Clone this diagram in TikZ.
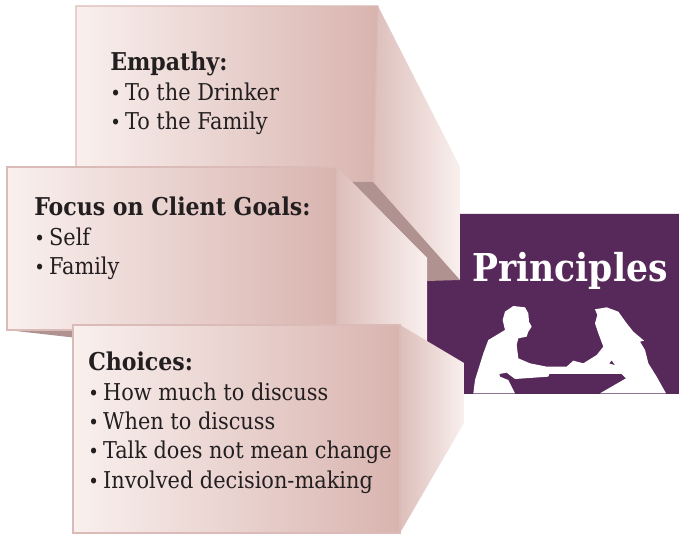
\documentclass[tikz,border=0pt]{standalone}
\usepackage{fontspec}
\setmainfont{DejaVu Serif Condensed}
\definecolor{plum}{HTML}{57285A}
\definecolor{ink}{HTML}{231F20}
\definecolor{edge}{HTML}{DABBB8}
\definecolor{pale}{HTML}{F9F0EE}
\definecolor{mid}{HTML}{EAD8D6}
\definecolor{rose}{HTML}{D9B4AF}
\definecolor{wingl}{HTML}{DDBEBA}
\definecolor{shade}{HTML}{B09391}
\newcommand{\bul}{{\fontsize{15}{22}\selectfont•}\hspace{3.2pt}}
\newcommand{\hd}[1]{{\fontsize{18.4}{22}\selectfont\bfseries #1}}
\tikzset{
  panel/.style={left color=pale,middle color=mid,right color=rose,draw=edge,line width=0.8pt},
  wing/.style={left color=wingl,right color=pale,draw=none},
  under/.style={fill=shade,draw=none},
  txt/.style={anchor=north west,align=left,inner sep=0pt,text=ink,font=\fontsize{17.4}{22}\selectfont},
}
\begin{document}
\begin{tikzpicture}[x=0.75pt,y=-0.75pt]
\useasboundingbox (0,0) rectangle (679,534);
% purple ground
\fill[plum] (460,214) -- (679,214) -- (679,394) -- (427,394) -- (427,280) -- (460,280) -- cycle;
% first card
\path[wing] (378,6) -- (460,167) -- (460,280) -- (373,182) -- cycle;
\path[panel] (76,6) -- (378,6) -- (373.5,182) -- (76,182) -- cycle;
\path[under] (352,182) -- (373,182) -- (460,280) -- (427,281) -- (427,258) -- cycle;
% second card
\path[under] (7,330) -- (73,337.5) -- (73,325) -- cycle;
\path[wing] (337,167) -- (427,258) -- (427,345) -- (337,345) -- cycle;
\path[panel] (7,167) rectangle (337,330);
% third card
\path[wing] (400,325) -- (464,363) -- (464,423) -- (400,533) -- cycle;
\path[panel] (73,325) rectangle (400,533);
% silhouettes
\begin{scope}[shift={(340,150)},x=0.25pt,y=-0.25pt]
\fill[white] (400,730) -- (405,690) -- (430,610) -- (445,570) -- (495,540) -- (488,510) -- (495,485) -- (520,468) -- (555,472) -- (565,490) -- (567,515) -- (575,530) -- (565,545) -- (560,560) -- (535,565) -- (530,585) -- (535,625) -- (570,640) -- (620,650) -- (680,650) -- (700,632) -- (730,640) -- (770,615) -- (790,590) -- (775,550) -- (765,520) -- (772,495) -- (765,478) -- (800,472) -- (835,485) -- (860,520) -- (880,545) -- (912,572) -- (900,575) -- (915,600) -- (925,640) -- (950,680) -- (978,730) -- (780,730) -- (858,685) -- (845,672) -- (628,672) -- (625,680) -- (525,687) -- (500,668) -- (478,672) -- (480,680) -- (505,690) -- (525,730) -- cycle;
\fill[plum] (808,640) -- (815,632) -- (824,645) -- cycle;
\end{scope}
% texts
\node[txt] (empathy) at (110,52) {\hd{Empathy:}\\\bul To the Drinker\\\bul To the Family};
\node[txt] (goals) at (34,197) {\hd{Focus on Client Goals:}\\\bul Self\\\bul Family};
\node[txt] (choices) at (88,352) {\hd{Choices:}\\\bul How much to discuss\\\bul When to discuss\\\bul Talk does not mean change\\\bul Involved decision-making};
\node[anchor=base west,inner sep=0pt,text=white,font=\fontsize{28.8}{32}\selectfont\bfseries] (title) at (472,282) {Principles};
\end{tikzpicture}
\end{document}
